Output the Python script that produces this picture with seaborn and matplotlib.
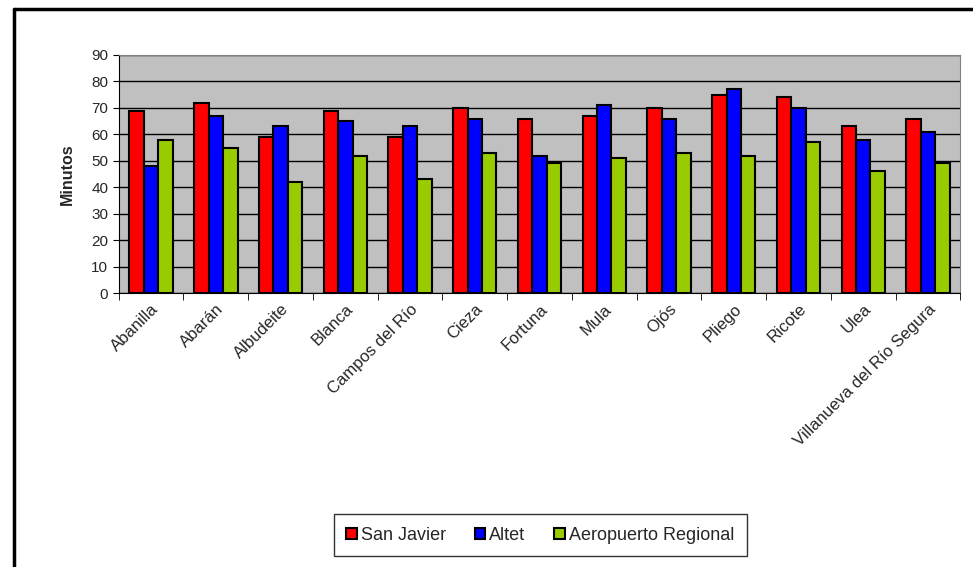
import matplotlib
matplotlib.use('Agg')
import matplotlib.pyplot as plt
import seaborn as sns
import pandas as pd
import numpy as np
from matplotlib.lines import Line2D

municipios = ['Abanilla', 'Abarán', 'Albudeite', 'Blanca', 'Campos del Río', 'Cieza',
              'Fortuna', 'Mula', 'Ojós', 'Pliego', 'Ricote', 'Ulea',
              'Villanueva del Río Segura']
san_javier = [69, 72, 59, 69, 59, 70, 66, 67, 70, 75, 74, 63, 66]
altet = [48, 67, 63, 65, 63, 66, 52, 71, 66, 77, 70, 58, 61]
aeropuerto_regional = [58, 55, 42, 52, 43, 53, 49, 51, 53, 52, 57, 46, 49]
series_names = ['San Javier', 'Altet', 'Aeropuerto Regional']
colors = ['#FF0000', '#0000FF', '#99CC00']

# long format table for seaborn
df = pd.concat([
    pd.DataFrame({'Municipio': municipios, 'Minutos': vals, 'Origen': name})
    for name, vals in zip(series_names, [san_javier, altet, aeropuerto_regional])
])

sns.set_style('white')
plt.rcParams['font.family'] = ['Liberation Sans', 'DejaVu Sans']

fig = plt.figure(figsize=(9.73, 5.67), dpi=100)
ax = fig.add_axes([0.122, 0.483, 0.865, 0.42])
ax.set_facecolor('#C0C0C0')
ax.set_axisbelow(True)
ax.yaxis.grid(True, color='black', linewidth=1)

sns.barplot(data=df, x='Municipio', y='Minutos', hue='Origen', palette=colors,
            saturation=1, width=0.67, gap=0, edgecolor='black', linewidth=1.5,
            ax=ax, legend=True)

ax.set_ylim(0, 90)
ax.set_yticks(range(0, 91, 10))
ax.set_xlim(-0.5, len(municipios) - 0.5)
ax.set_xlabel('')
ax.set_ylabel('Minutos', fontsize=11.5, fontweight='bold', labelpad=12)
ax.tick_params(axis='y', labelsize=11, length=4, color='black', direction='out', left=True)
ax.tick_params(axis='x', which='major', labelsize=12, length=0, pad=6)
# separator ticks between categories
ax.set_xticks(np.arange(len(municipios) + 1) - 0.5, minor=True)
ax.tick_params(axis='x', which='minor', length=5, color='black', direction='out', bottom=True)
plt.setp(ax.get_xticklabels(), rotation=45, ha='right', rotation_mode='anchor')

for side in ['top', 'right']:
    ax.spines[side].set_color('#808080')
ax.spines['left'].set_color('black')
ax.spines['bottom'].set_color('black')

handles, labels = ax.get_legend_handles_labels()
ax.legend_.remove()
fig.legend(handles, labels, loc='center', bbox_to_anchor=(0.555, 0.056), ncol=3,
           frameon=True, fancybox=False, edgecolor='black', fontsize=13,
           handlelength=0.6, handleheight=0.6, handletextpad=0.2, columnspacing=1.6,
           borderpad=0.7, borderaxespad=0)
fig.legends[0].get_frame().set_linewidth(1)

# outer chart border (left and top visible)
fig.add_artist(Line2D([14 / 973, 14 / 973], [0, 1 - 9 / 567], color='black', linewidth=2.5,
                      transform=fig.transFigure))
fig.add_artist(Line2D([14 / 973, 1], [1 - 9 / 567, 1 - 9 / 567], color='black', linewidth=2.5,
                      transform=fig.transFigure))

fig.savefig('out.png', dpi=100)
